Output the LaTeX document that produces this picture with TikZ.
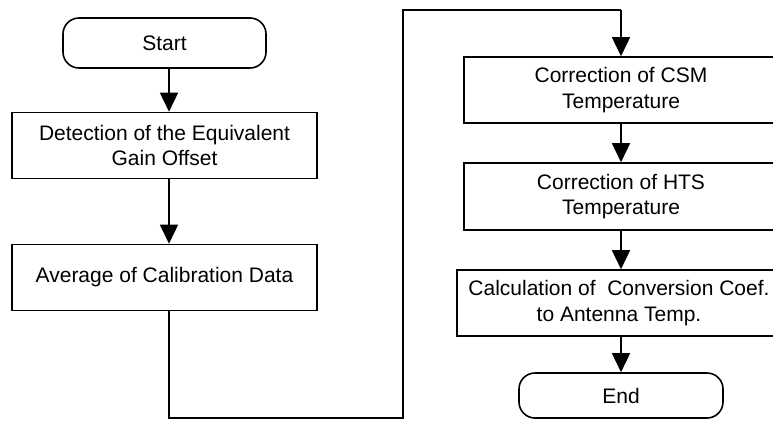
\documentclass[tikz,border=0pt]{standalone}
\usepackage{fontspec}
\setmainfont{Liberation Sans}
\usetikzlibrary{arrows.meta}
\begin{document}
\begin{tikzpicture}[x=1pt,y=-1pt,
  every node/.style={font=\fontsize{21}{25.5}\selectfont},
  procbox/.style={draw,line width=1.6pt,align=center,inner sep=0pt,minimum width=305pt,minimum height=66pt},
  termbox/.style={draw,line width=1.6pt,rounded corners=16pt,inner sep=0pt,minimum width=203pt,minimum height=50pt},
  flow/.style={line width=1.6pt,-{Triangle[length=19pt,width=18pt]}},
  link/.style={line width=1.6pt}]
\useasboundingbox (0,0) rectangle (773,421);
\clip (0,0) rectangle (773,421);
\node[termbox] (start) at (164.5,43) {Start};
\node[procbox] (b1) at (164.5,145.5) {Detection of the Equivalent\\Gain Offset};
\node[procbox] (b2) at (164.5,277.5) {Average of Calibration Data};
\node[procbox,minimum width=314pt] (b3) at (621,90) {Correction of CSM\\Temperature};
\node[procbox,minimum width=314pt,minimum height=67pt] (b4) at (621,196.5) {Correction of HTS\\Temperature};
\node[procbox,minimum width=324pt] (b5) at (619,303) {Calculation of\ \ Conversion Coef.\\to Antenna Temp.};
\node[termbox,minimum width=204pt,minimum height=45pt] (end) at (621,395.5) {End};
\coordinate (c1) at (169,418);
\coordinate (c2) at (403,418);
\coordinate (c3) at (403,10);
\coordinate (c4) at (621,10);
\draw[flow] (start.south -| 169,0) -- (b1.north -| 169,0);
\draw[flow] (b1.south -| 169,0) -- (b2.north -| 169,0);
\draw[link] (b2.south -| 169,0) -- (c1) -- (c2) -- (c3) -- (c4);
\draw[flow] (c4) -- (b3.north);
\draw[flow] (b3.south) -- (b4.north);
\draw[flow] (b4.south -| 621,0) -- (b5.north -| 621,0);
\draw[flow] (b5.south -| 621,0) -- (end.north);
\end{tikzpicture}
\end{document}
